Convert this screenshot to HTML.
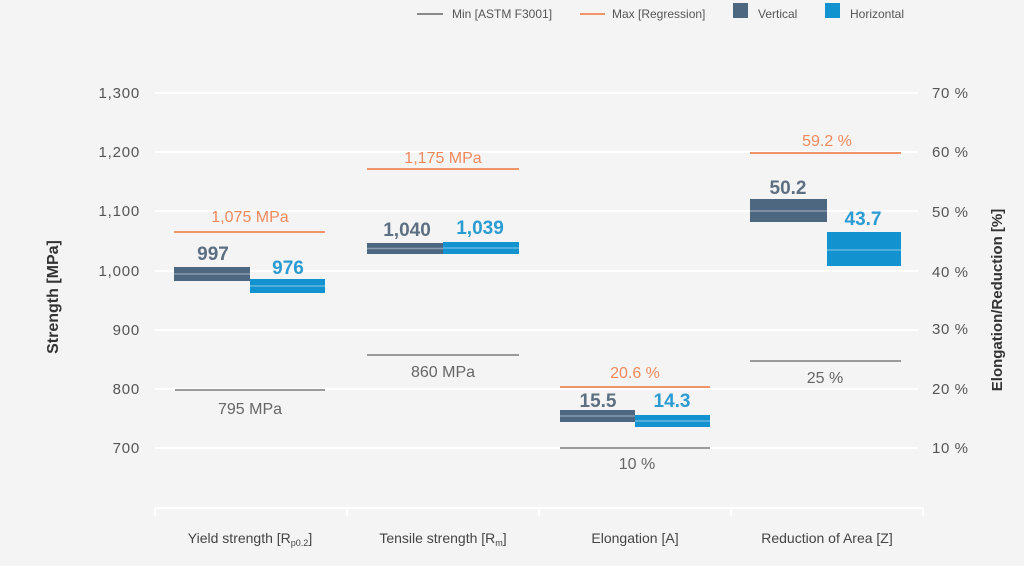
<!DOCTYPE html>
<html>
<head>
<meta charset="utf-8">
<style>
  html,body{margin:0;padding:0;background:#f4f4f4;}
  svg{display:block;}
  text{font-family:"Liberation Sans",sans-serif;}
</style>
</head>
<body>
<svg width="1024" height="566" viewBox="0 0 1024 566" xmlns="http://www.w3.org/2000/svg">
  <rect x="0" y="0" width="1024" height="566" fill="#f4f4f4"/>

  <!-- Legend -->
  <line x1="417" y1="14" x2="443" y2="14" stroke="#8a8a8a" stroke-width="2"/>
  <text x="452" y="18" font-size="12" fill="#555">Min [ASTM F3001]</text>
  <line x1="580" y1="14" x2="605" y2="14" stroke="#f0946a" stroke-width="2"/>
  <text x="612" y="18" font-size="12" fill="#555">Max [Regression]</text>
  <rect x="733" y="3" width="15" height="15" fill="#4e6781"/>
  <text x="758" y="18" font-size="12" fill="#555">Vertical</text>
  <rect x="825" y="3" width="15" height="15" fill="#1293d0"/>
  <text x="850" y="18" font-size="12" fill="#555">Horizontal</text>

  <!-- Gridlines -->
  <g stroke="#ffffff" stroke-width="2">
    <line x1="155" y1="93" x2="918" y2="93"/>
    <line x1="155" y1="152" x2="918" y2="152"/>
    <line x1="155" y1="211" x2="918" y2="211"/>
    <line x1="155" y1="271" x2="918" y2="271"/>
    <line x1="155" y1="330" x2="918" y2="330"/>
    <line x1="155" y1="389" x2="918" y2="389"/>
    <line x1="155" y1="448" x2="918" y2="448"/>
  </g>

  <!-- Left axis labels -->
  <g font-size="15" fill="#555" text-anchor="end" letter-spacing="0.8">
    <text x="140" y="98">1,300</text>
    <text x="140" y="157">1,200</text>
    <text x="140" y="216">1,100</text>
    <text x="140" y="276">1,000</text>
    <text x="140" y="335">900</text>
    <text x="140" y="394">800</text>
    <text x="140" y="453">700</text>
  </g>
  <!-- Right axis labels -->
  <g font-size="15" fill="#555" letter-spacing="0.6">
    <text x="932" y="98">70 %</text>
    <text x="932" y="157">60 %</text>
    <text x="932" y="217">50 %</text>
    <text x="932" y="277">40 %</text>
    <text x="932" y="334">30 %</text>
    <text x="932" y="394">20 %</text>
    <text x="932" y="453">10 %</text>
  </g>

  <!-- Axis titles -->
  <text transform="translate(58,297) rotate(-90)" text-anchor="middle" font-size="16" font-weight="bold" fill="#333">Strength [MPa]</text>
  <text transform="translate(1002,300) rotate(-90)" text-anchor="middle" font-size="15" font-weight="bold" fill="#333">Elongation/Reduction [%]</text>

  <!-- Bottom axis -->
  <g stroke="#ffffff" stroke-width="2">
    <line x1="155" y1="508" x2="923" y2="508"/>
    <line x1="155" y1="508" x2="155" y2="516"/>
    <line x1="347" y1="508" x2="347" y2="516"/>
    <line x1="539" y1="508" x2="539" y2="516"/>
    <line x1="731" y1="508" x2="731" y2="516"/>
    <line x1="923" y1="508" x2="923" y2="516"/>
  </g>
  <g font-size="14" fill="#444" text-anchor="middle">
    <text x="250" y="543">Yield strength [R<tspan font-size="9" dy="3">p0.2</tspan><tspan dy="-3">]</tspan></text>
    <text x="443" y="543">Tensile strength [R<tspan font-size="9" dy="3">m</tspan><tspan dy="-3">]</tspan></text>
    <text x="635" y="543">Elongation [A]</text>
    <text x="827" y="543">Reduction of Area [Z]</text>
  </g>

  <!-- Max lines (orange) -->
  <g stroke="#f0946a" stroke-width="2">
    <line x1="174" y1="232" x2="325" y2="232"/>
    <line x1="367" y1="169" x2="519" y2="169"/>
    <line x1="560" y1="387" x2="710" y2="387"/>
    <line x1="750" y1="153" x2="901" y2="153"/>
  </g>
  <g font-size="16" fill="#f08a5d" text-anchor="middle">
    <text x="250" y="222">1,075 MPa</text>
    <text x="443" y="163">1,175 MPa</text>
    <text x="635" y="378">20.6 %</text>
    <text x="827" y="146">59.2 %</text>
  </g>

  <!-- Min lines (grey) -->
  <g stroke="#9a9a9a" stroke-width="2">
    <line x1="175" y1="390" x2="325" y2="390"/>
    <line x1="367" y1="355" x2="519" y2="355"/>
    <line x1="560" y1="448" x2="710" y2="448"/>
    <line x1="750" y1="361" x2="901" y2="361"/>
  </g>
  <g font-size="16" fill="#666" text-anchor="middle">
    <text x="250" y="414">795 MPa</text>
    <text x="443" y="377">860 MPa</text>
    <text x="637" y="469">10 %</text>
    <text x="825" y="383">25 %</text>
  </g>

  <!-- Bars -->
  <g>
    <rect x="174" y="267" width="76" height="14" fill="#4e6781"/>
    <rect x="250" y="279" width="75" height="14" fill="#1293d0"/>
    <rect x="367" y="243" width="76" height="11" fill="#4e6781"/>
    <rect x="443" y="242" width="76" height="12" fill="#1293d0"/>
    <rect x="560" y="410" width="75" height="12" fill="#4e6781"/>
    <rect x="635" y="415" width="75" height="12" fill="#1293d0"/>
    <rect x="750" y="199" width="77" height="23" fill="#4e6781"/>
    <rect x="827" y="232" width="74" height="34" fill="#1293d0"/>
  </g>
  <!-- bar center lines -->
  <g stroke="#ffffff" stroke-opacity="0.35" stroke-width="1.5">
    <line x1="174" y1="274" x2="250" y2="274"/>
    <line x1="250" y1="286" x2="325" y2="286"/>
    <line x1="367" y1="248.5" x2="443" y2="248.5"/>
    <line x1="443" y1="248" x2="519" y2="248"/>
    <line x1="560" y1="416" x2="635" y2="416"/>
    <line x1="635" y1="421" x2="710" y2="421"/>
    <line x1="750" y1="211" x2="827" y2="211"/>
    <line x1="827" y1="250" x2="901" y2="250"/>
  </g>

  <!-- Bar value labels -->
  <g font-size="19" font-weight="bold" text-anchor="middle">
    <text x="213" y="260" fill="#5d6f82">997</text>
    <text x="288" y="274" fill="#2a9bd3">976</text>
    <text x="407" y="236" fill="#5d6f82">1,040</text>
    <text x="480" y="234" fill="#2a9bd3">1,039</text>
    <text x="598" y="407" fill="#5d6f82">15.5</text>
    <text x="672" y="407" fill="#2a9bd3">14.3</text>
    <text x="788" y="194" fill="#5d6f82">50.2</text>
    <text x="863" y="225" fill="#2a9bd3">43.7</text>
  </g>
</svg>
</body>
</html>
